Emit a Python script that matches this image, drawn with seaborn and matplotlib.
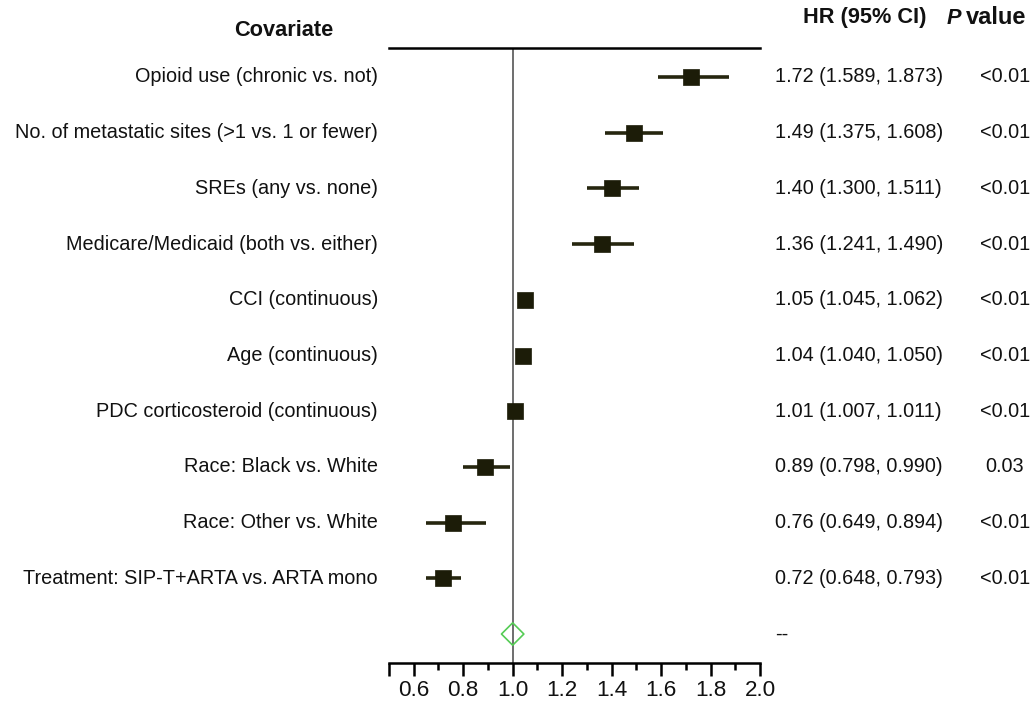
import numpy as np
import pandas as pd
import matplotlib
matplotlib.use("Agg")
import matplotlib.pyplot as plt
import seaborn as sns
from matplotlib.ticker import FixedLocator
from matplotlib.transforms import blended_transform_factory

covariates = [
    "Opioid use (chronic vs. not)",
    "No. of metastatic sites (>1 vs. 1 or fewer)",
    "SREs (any vs. none)",
    "Medicare/Medicaid (both vs. either)",
    "CCI (continuous)",
    "Age (continuous)",
    "PDC corticosteroid (continuous)",
    "Race: Black vs. White",
    "Race: Other vs. White",
    "Treatment: SIP-T+ARTA vs. ARTA mono",
]
hr = [1.72, 1.49, 1.40, 1.36, 1.05, 1.04, 1.01, 0.89, 0.76, 0.72]
lo = [1.589, 1.375, 1.300, 1.241, 1.045, 1.040, 1.007, 0.798, 0.649, 0.648]
hi = [1.873, 1.608, 1.511, 1.490, 1.062, 1.050, 1.011, 0.990, 0.894, 0.793]
hr_text = ["1.72 (1.589, 1.873)", "1.49 (1.375, 1.608)", "1.40 (1.300, 1.511)",
           "1.36 (1.241, 1.490)", "1.05 (1.045, 1.062)", "1.04 (1.040, 1.050)",
           "1.01 (1.007, 1.011)", "0.89 (0.798, 0.990)", "0.76 (0.649, 0.894)",
           "0.72 (0.648, 0.793)"]
p_text = ["<0.01", "<0.01", "<0.01", "<0.01", "<0.01", "<0.01", "<0.01", "0.03", "<0.01", "<0.01"]
overall_hr = 1.0
major_ticks = [0.6, 0.8, 1.0, 1.2, 1.4, 1.6, 1.8, 2.0]
minor_ticks = [0.7, 0.9, 1.1, 1.3, 1.5, 1.7, 1.9]

df = pd.DataFrame({"cov": covariates, "hr": hr, "lo": lo, "hi": hi,
                   "row": np.arange(len(covariates))})

sns.set_style("white")
plt.rcParams["font.family"] = ["Liberation Sans", "DejaVu Sans"]
FS = 14.3
HFS = 15.7
TFS = 16.2
TC = "#111111"

fig = plt.figure(figsize=(10.32, 7.01), dpi=100)
W, H = 1032, 701
ax = fig.add_axes([389 / W, 1 - 663 / H, (760 - 389) / W, (663 - 48) / H])

ax.set_xlim(0.5, 2.0)
ax.set_ylim(10.52, -0.52)

ax.axvline(1.0, color="#555555", lw=1.2, zorder=1)
ax.hlines(df["row"], df["lo"], df["hi"], color="#26260f", lw=2.6, zorder=2)
sns.scatterplot(data=df, x="hr", y="row", marker="s", s=118, color="#1c1c08",
                edgecolor="#1c1c08", linewidth=0.5, ax=ax, zorder=3, legend=False)
sns.scatterplot(x=[overall_hr], y=[10], marker="D", s=130, facecolor="none",
                edgecolor="#55cc55", linewidth=1.2, ax=ax, zorder=3, legend=False)

for s in ["left", "right"]:
    ax.spines[s].set_visible(False)
for s in ["top", "bottom"]:
    ax.spines[s].set_linewidth(1.8)
    ax.spines[s].set_color("black")

ax.xaxis.set_major_locator(FixedLocator([0.5] + major_ticks))
ax.set_xticklabels([""] + [f"{t:.1f}" for t in major_ticks], fontsize=TFS, color=TC)
ax.xaxis.set_minor_locator(FixedLocator(minor_ticks))
ax.tick_params(axis="x", which="major", direction="out", length=9, width=1.8,
               colors="black", labelcolor=TC, pad=3, bottom=True)
ax.tick_params(axis="x", which="minor", direction="out", length=5, width=1.8,
               colors="black", bottom=True)
ax.set_yticks([])
ax.set_xlabel("")
ax.set_ylabel("")

def fx(px):
    return px / W

bt = blended_transform_factory(fig.transFigure, ax.transData)
for i in range(len(covariates)):
    fig.text(fx(378), i, covariates[i], ha="right", va="center", fontsize=FS,
             color=TC, transform=bt)
    fig.text(fx(775), i, hr_text[i], ha="left", va="center", fontsize=FS,
             color=TC, transform=bt)
    fig.text(fx(1005), i, p_text[i], ha="center", va="center", fontsize=FS,
             color=TC, transform=bt)
fig.text(fx(775), 10, "--", ha="left", va="center", fontsize=FS, color=TC, transform=bt)

fig.text(fx(284), 1 - 31 / H, "Covariate", ha="center", va="center",
         fontsize=HFS, fontweight="bold", color=TC)
fig.text(fx(865), 1 - 18 / H, "HR (95% CI)", ha="center", va="center",
         fontsize=HFS, fontweight="bold", color=TC)
fig.text(fx(966), 1 - 18 / H, "value", ha="left", va="center",
         fontsize=17.0, fontweight="bold", color=TC)
fig.text(fx(961), 1 - 18 / H, "P", ha="right", va="center",
         fontsize=HFS, fontweight="bold", fontstyle="italic", color=TC)

fig.savefig("out.png", dpi=100)
